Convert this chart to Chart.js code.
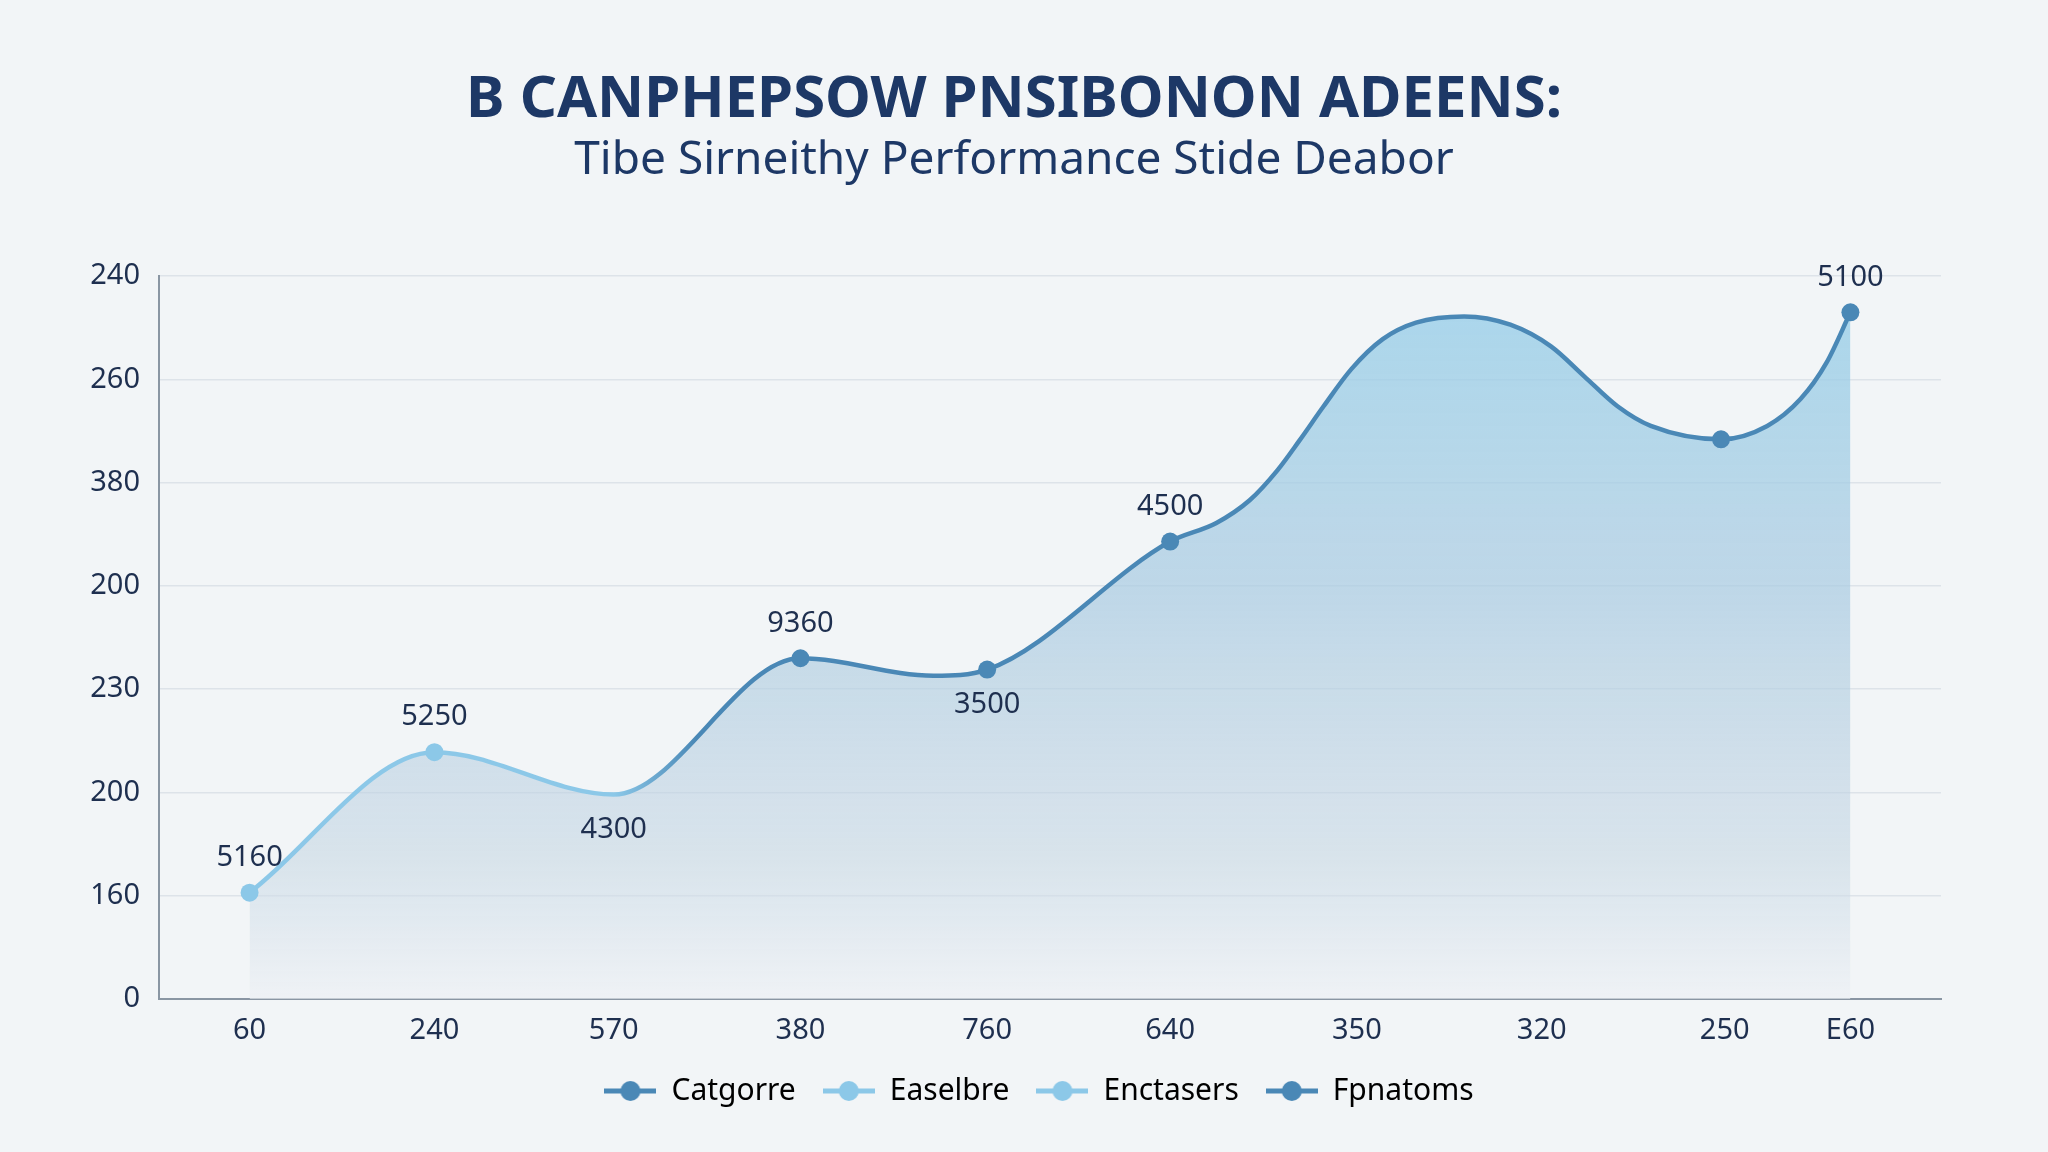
<!DOCTYPE html>
<html>
<head>
<meta charset="utf-8">
<title>Performance</title>
<script src="https://cdn.jsdelivr.net/npm/chart.js@4.4.1/dist/chart.umd.min.js"></script>
<style>
  html, body { margin: 0; padding: 0; background: #f2f5f7; }
  #wrap { width: 2048px; height: 1152px; }
</style>
</head>
<body>
<div id="wrap"><canvas id="perfChart" width="2048" height="1152"></canvas></div>
<script>
// Chart data
const xLabels = ['60', '240', '570', '380', '760', '640', '350', '320', '250', 'E60'];
const xTicks = [0, 1, 1.97, 2.98, 3.99, 4.98, 5.99, 6.99, 7.98, 8.66];
const yLabels = ['0', '160', '200', '230', '200', '380', '260', '240'];

// points (x in category slots, y in grid steps)
const seriesX = [0, 1, 1.97, 2.98, 3.70, 3.99, 4.98, 5.23, 5.41, 5.56, 5.68, 5.81, 5.96,
                 6.13, 6.31, 6.57, 6.82, 7.04, 7.22, 7.40, 7.58, 7.96, 8.21, 8.39, 8.53, 8.66];
const seriesY = [1.03, 2.39, 1.98, 3.30, 3.13, 3.19, 4.43, 4.61, 4.83, 5.12, 5.41, 5.74, 6.10,
                 6.39, 6.55, 6.61, 6.53, 6.32, 6.03, 5.74, 5.55, 5.42, 5.55, 5.81, 6.16, 6.65];
const valueLabels = ['5160', '5250', '4300', '9360', '', '3500', '4500', '', '', '', '', '', '',
                     '', '', '', '', '', '', '', '', '', '', '', '', '5100'];
const labelsBelow = [2, 5];
const shownMarkers = [0, 1, 3, 5, 6, 21, 25];

const legendNames = ['Catgorre', 'Easelbre', 'Enctasers', 'Fpnatoms'];

const DARK = '#4a88b6';
const LIGHT = '#8cc8e8';
const TEXT = '#1e2f4f';
const legendColors = [DARK, LIGHT, LIGHT, DARK];

Chart.defaults.font.family = '"Noto Sans", sans-serif';

// little line + dot icon for the legend
function makeLegendIcon(color) {
    const c = document.createElement('canvas');
    c.width = 52;
    c.height = 24;
    const g = c.getContext('2d');
    g.strokeStyle = color;
    g.lineWidth = 5;
    g.beginPath();
    g.moveTo(0, 12);
    g.lineTo(52, 12);
    g.stroke();
    g.fillStyle = color;
    g.beginPath();
    g.arc(26, 12, 10, 0, Math.PI * 2);
    g.fill();
    return c;
}

function lineGradient(context) {
    const chart = context.chart;
    const area = chart.chartArea;
    if (!area || !chart.scales.x) return DARK;
    const xs = chart.scales.x;
    const g = chart.ctx.createLinearGradient(area.left, 0, area.right, 0);
    const a = (xs.getPixelForValue(seriesX[2]) - area.left) / (area.right - area.left);
    const b = (xs.getPixelForValue(seriesX[2] + 0.45) - area.left) / (area.right - area.left);
    g.addColorStop(0, LIGHT);
    g.addColorStop(Math.max(0, Math.min(1, a)), LIGHT);
    g.addColorStop(Math.max(0, Math.min(1, b)), DARK);
    g.addColorStop(1, DARK);
    return g;
}

function fillGradient(context) {
    const chart = context.chart;
    const area = chart.chartArea;
    if (!area) return 'rgba(140,200,232,0.4)';
    const g = chart.ctx.createLinearGradient(0, area.top, 0, area.bottom);
    g.addColorStop(0, 'rgba(150, 206, 233, 0.80)');
    g.addColorStop(0.45, 'rgba(170, 203, 225, 0.70)');
    g.addColorStop(0.8, 'rgba(195, 212, 226, 0.55)');
    g.addColorStop(1, 'rgba(236, 240, 244, 0.6)');
    return g;
}

const valueLabelPlugin = {
    id: 'valueLabels',
    afterLayout(chart) {
        // legend sits a bit right of the plot centre in the original
        chart.legend.left += 25;
        chart.legend.right += 25;
    },
    afterDatasetsDraw(chart) {
        const ctx = chart.ctx;
        const meta = chart.getDatasetMeta(0);
        ctx.save();
        ctx.font = '29px "Noto Sans", sans-serif';
        ctx.fillStyle = TEXT;
        ctx.textAlign = 'center';
        ctx.textBaseline = 'middle';
        meta.data.forEach((pt, i) => {
            const text = valueLabels[i];
            if (!text) return;
            const dy = labelsBelow.includes(i) ? 35 : -35;
            ctx.fillText(text, pt.x, pt.y + dy);
        });
        ctx.restore();
    }
};

const ctx = document.getElementById('perfChart').getContext('2d');
new Chart(ctx, {
    type: 'line',
    data: {
        datasets: [{
            label: legendNames[0],
            data: seriesX.map((x, i) => ({ x: x, y: seriesY[i] })),
            borderColor: lineGradient,
            borderWidth: 4.5,
            backgroundColor: fillGradient,
            fill: 'origin',
            cubicInterpolationMode: 'monotone',
            pointRadius: c => shownMarkers.includes(c.dataIndex) ? 9 : 0,
            pointHoverRadius: 9,
            pointBackgroundColor: c => c.dataIndex < 2 ? LIGHT : DARK,
            pointBorderColor: c => c.dataIndex < 2 ? LIGHT : DARK,
            pointBorderWidth: 0
        }]
    },
    options: {
        responsive: false,
        animation: false,
        devicePixelRatio: 1,
        layout: {
            padding: { top: 0, left: 87, right: 107, bottom: 36 }
        },
        scales: {
            x: {
                type: 'linear',
                min: -0.49,
                max: 9.15,
                afterBuildTicks: scale => {
                    scale.ticks = xTicks.map(v => ({ value: v }));
                },
                afterFit: scale => { scale.height = 50; },
                grid: { display: false, drawTicks: false },
                border: { display: true, color: '#8a96a3', width: 2 },
                ticks: {
                    autoSkip: false,
                    maxRotation: 0,
                    padding: 14,
                    color: TEXT,
                    font: { size: 29 },
                    callback: (v, i) => xLabels[i]
                }
            },
            y: {
                min: 0,
                max: 7,
                afterFit: scale => { scale.width = 72; },
                grid: { color: '#dde3e9', lineWidth: 1.5, drawTicks: false },
                border: { display: true, color: '#8a96a3', width: 2 },
                ticks: {
                    stepSize: 1,
                    padding: 19,
                    color: TEXT,
                    font: { size: 29 },
                    callback: v => yLabels[v]
                }
            }
        },
        plugins: {
            title: {
                display: true,
                text: 'B CANPHEPSOW PNSIBONON ADEENS:',
                color: '#1d3866',
                font: { size: 58, weight: 'bold', lineHeight: 1.2 },
                padding: { top: 66, bottom: 0 }
            },
            subtitle: {
                display: true,
                text: 'Tibe Sirneithy Performance Stide Deabor',
                color: '#1d3866',
                font: { size: 46, weight: 'normal', lineHeight: 1.1 },
                padding: { top: 0, bottom: 90 }
            },
            legend: {
                position: 'bottom',
                labels: {
                    usePointStyle: true,
                    pointStyleWidth: 52,
                    padding: 27,
                    color: TEXT,
                    font: { size: 30 },
                    generateLabels: () => legendNames.map((name, i) => ({
                        text: name,
                        fillStyle: legendColors[i],
                        strokeStyle: legendColors[i],
                        lineWidth: 0,
                        pointStyle: makeLegendIcon(legendColors[i]),
                        hidden: false,
                        datasetIndex: 0
                    }))
                }
            },
            tooltip: { enabled: false }
        }
    },
    plugins: [valueLabelPlugin]
});
</script>
</body>
</html>
